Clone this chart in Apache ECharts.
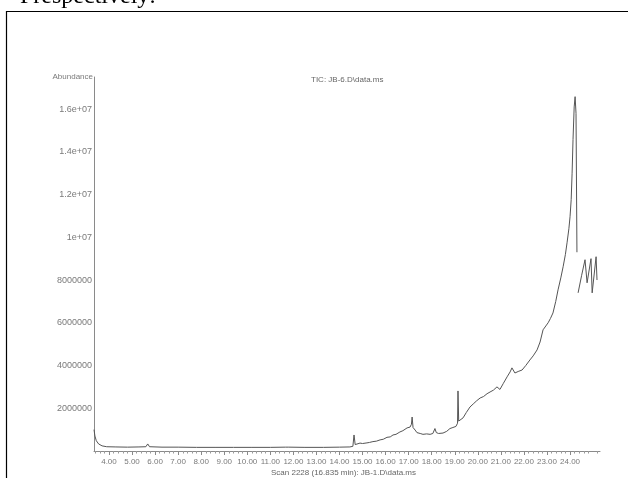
<!DOCTYPE html>
<html>
<head>
<meta charset="utf-8">
<script src="https://cdn.jsdelivr.net/npm/echarts@6/dist/echarts.min.js"></script>
<style>
  html, body { margin: 0; padding: 0; background: #fff; }
  #chart { width: 628px; height: 478px; }
</style>
</head>
<body>
<div id="chart"></div>
<script>
// Total ion chromatogram: retention time (min) and abundance
const retentionTime = [
  3.35, 3.39, 3.45, 3.55, 3.70, 3.90, 4.30, 4.80, 5.30, 5.60, 5.68, 5.76,
  6.30, 7.00, 7.80, 8.60, 9.40, 10.20, 11.00, 11.65, 11.72, 11.80, 12.50, 13.30,
  14.00, 14.45, 14.58, 14.63, 14.68, 14.76, 14.89, 15.00, 15.19, 15.30, 15.45, 15.60,
  15.76, 15.90, 16.06, 16.20, 16.32, 16.45, 16.62, 16.75, 16.93, 17.06, 17.12, 17.15,
  17.19, 17.28, 17.36, 17.50, 17.62, 17.78, 17.93, 18.05, 18.14, 18.20, 18.30, 18.49,
  18.65, 18.79, 18.92, 19.05, 19.12, 19.14, 19.17, 19.22, 19.36, 19.50, 19.66, 19.80,
  19.95, 20.10, 20.25, 20.40, 20.53, 20.68, 20.83, 20.96, 21.10, 21.27, 21.40, 21.48,
  21.61, 21.75, 21.92, 22.08, 22.26, 22.40, 22.57, 22.70, 22.83, 22.95, 23.05, 23.15,
  23.26, 23.38, 23.48, 23.60, 23.70, 23.80, 23.87, 23.95, 24.00, 24.05, 24.09, 24.13,
  24.18, 24.22, 24.26, 24.30, 24.32,
  24.35, 24.50, 24.65, 24.74, 24.91, 24.96, 25.13, 25.17
];
const abundance = [
  1.00e6, 0.70e6, 0.48e6, 0.33e6, 0.24e6, 0.20e6, 0.19e6, 0.18e6, 0.19e6, 0.20e6, 0.33e6, 0.20e6,
  0.18e6, 0.18e6, 0.17e6, 0.17e6, 0.17e6, 0.17e6, 0.17e6, 0.18e6, 0.27e6, 0.18e6, 0.17e6, 0.17e6,
  0.18e6, 0.19e6, 0.22e6, 0.75e6, 0.30e6, 0.24e6, 0.37e6, 0.35e6, 0.38e6, 0.40e6, 0.44e6, 0.46e6,
  0.52e6, 0.55e6, 0.64e6, 0.66e6, 0.75e6, 0.78e6, 0.89e6, 0.95e6, 1.08e6, 1.12e6, 1.25e6, 1.59e6,
  1.10e6, 0.98e6, 0.86e6, 0.82e6, 0.78e6, 0.80e6, 0.78e6, 0.82e6, 1.05e6, 0.86e6, 0.82e6, 0.84e6,
  0.92e6, 1.05e6, 1.10e6, 1.15e6, 1.30e6, 2.81e6, 1.40e6, 1.35e6, 1.55e6, 1.80e6, 2.06e6, 2.20e6,
  2.35e6, 2.48e6, 2.55e6, 2.68e6, 2.76e6, 2.85e6, 3.00e6, 2.88e6, 3.15e6, 3.47e6, 3.70e6, 3.89e6,
  3.65e6, 3.72e6, 3.79e6, 4.00e6, 4.26e6, 4.45e6, 4.73e6, 5.10e6, 5.67e6, 5.85e6, 6.00e6, 6.20e6,
  6.46e6, 7.00e6, 7.54e6, 8.10e6, 8.62e6, 9.20e6, 9.74e6, 10.40e6, 10.96e6, 11.76e6, 13.00e6, 14.57e6,
  16.10e6, 16.58e6, 15.80e6, 9.30e6, null,
  7.40e6, 8.20e6, 8.95e6, 7.87e6, 9.00e6, 7.40e6, 9.09e6, 8.00e6
];

// Axis ticks
const xTickValues = [4, 5, 6, 7, 8, 9, 10, 11, 12, 13, 14, 15, 16, 17, 18, 19, 20, 21, 22, 23, 24];
const xTickLabels = ['4.00', '5.00', '6.00', '7.00', '8.00', '9.00', '10.00', '11.00', '12.00', '13.00',
  '14.00', '15.00', '16.00', '17.00', '18.00', '19.00', '20.00', '21.00', '22.00', '23.00', '24.00'];
const yTickValues = [0, 2000000, 4000000, 6000000, 8000000, 10000000, 12000000, 14000000, 16000000];

const xMin = 3.35, xMax = 25.3;
const yMax = 17500000;

const xMinorTicks = [];
for (let v = 3.4; v < xMax; v += 0.2) {
  const r = Math.round(v * 10) / 10;
  if (Math.abs(r - Math.round(r)) > 1e-6) xMinorTicks.push(r);
}

const series = retentionTime.map((t, i) => [t, abundance[i]]);

function yLabel(v) {
  if (v === 0) return '';
  if (v >= 1e7) return (v / 1e7) + 'e+07';
  return String(v);
}

const labelFont = '"Liberation Sans", Arial, sans-serif';
const grey = '#7a7a7a';

const chart = echarts.init(document.getElementById('chart'), null, { renderer: 'canvas' });
chart.setOption({
  animation: false,
  backgroundColor: '#ffffff',
  grid: { left: 94, right: 28, top: 77, bottom: 27 },
  xAxis: [
    {
      type: 'value', min: xMin, max: xMax, position: 'bottom',
      axisLine: { show: true, lineStyle: { color: '#8a8a8a', width: 1 } },
      axisTick: { show: true, customValues: xTickValues, length: 4, lineStyle: { color: '#8a8a8a' } },
      axisLabel: {
        show: true, customValues: xTickValues, margin: 7,
        color: grey, fontSize: 8, fontFamily: labelFont,
        formatter: v => xTickLabels[xTickValues.indexOf(Math.round(v))] || ''
      },
      splitLine: { show: false }
    },
    {
      type: 'value', min: xMin, max: xMax, position: 'bottom', gridIndex: 0,
      axisLine: { show: false },
      axisTick: { show: true, customValues: xMinorTicks, length: 2.5, lineStyle: { color: '#9a9a9a' } },
      axisLabel: { show: false },
      splitLine: { show: false }
    }
  ],
  yAxis: {
    type: 'value', min: 0, max: yMax,
    axisLine: { show: true, lineStyle: { color: '#8a8a8a', width: 1 } },
    axisTick: { show: false },
    axisLabel: {
      show: true, customValues: yTickValues, margin: 2,
      color: grey, fontSize: 9, fontFamily: labelFont,
      formatter: yLabel
    },
    splitLine: { show: false }
  },
  series: [{
    type: 'line',
    xAxisIndex: 0,
    data: series,
    showSymbol: false,
    connectNulls: false,
    lineStyle: { color: '#555555', width: 1 },
    z: 3
  }],
  graphic: [
    {
      type: 'rect', silent: true,
      shape: { x: 6.5, y: 11.5, width: 700, height: 520 },
      style: { fill: null, stroke: '#000', lineWidth: 1.2 }
    },
    {
      type: 'text', silent: true, x: 20, y: -3,
      style: { text: 'Prespectively:', font: '24px "Liberation Serif", "Times New Roman", serif',
        fill: '#000', verticalAlign: 'middle', align: 'left' }
    },
    {
      type: 'text', silent: true, x: 93, y: 77,
      style: { text: 'Abundance', font: '8px ' + labelFont, fill: grey, align: 'right', verticalAlign: 'middle' }
    },
    {
      type: 'text', silent: true, x: 311, y: 80,
      style: { text: 'TIC: JB-6.D\\data.ms', font: '8px ' + labelFont, fill: '#666', align: 'left', verticalAlign: 'middle' }
    },
    {
      type: 'text', silent: true, x: 271, y: 473,
      style: { text: 'Scan 2228 (16.835 min): JB-1.D\\data.ms', font: '8px ' + labelFont, fill: '#666', align: 'left', verticalAlign: 'middle' }
    }
  ]
});
</script>
</body>
</html>
